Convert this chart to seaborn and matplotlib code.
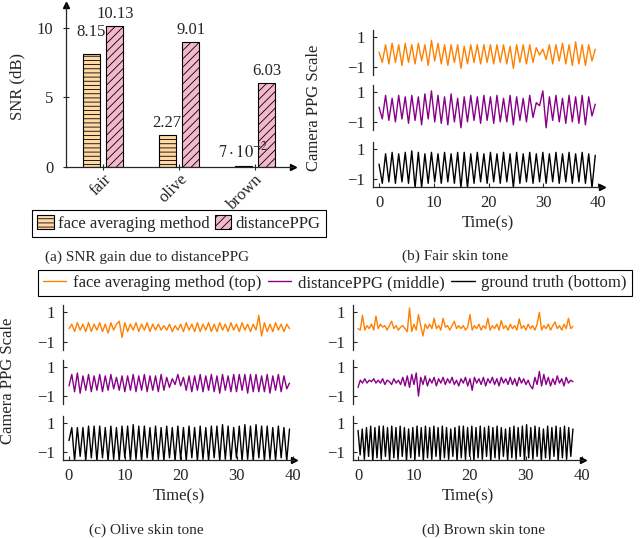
import numpy as np
import pandas as pd
import matplotlib
matplotlib.use('Agg')
import matplotlib.pyplot as plt
import matplotlib.patches as mpatches
from matplotlib.lines import Line2D
import seaborn as sns

# --- (a) SNR bars ---
categories = ['fair', 'olive', 'brown']
method_names = ['face averaging method', 'distancePPG']
face_avg_snr = [8.15, 2.27, 0.07]
distance_ppg_snr = [10.13, 9.01, 6.03]
face_avg_text = ['8.15', '2.27', r'$7\cdot10^{-2}$']
distance_ppg_text = ['10.13', '9.01', '6.03']

# --- camera PPG traces (evenly spaced in time) ---
trace_names = ['face averaging method (top)', 'distancePPG (middle)', 'ground truth (bottom)']

fair_end = 39.5
fair_face = [0.0, -0.7, 0.5, -0.8, 0.6, -0.7, 0.5, -0.9, 0.6, -0.7,
             0.5, -0.8, 0.6, -0.6, 0.5, -0.9, 0.8, -0.6, 0.6, -0.8,
             0.5, -0.9, 0.5, -0.7, 0.5, -1.1, 0.4, -0.8, 0.5, -0.7,
             0.5, -0.8, 0.5, -0.7, 0.5, -0.8, 0.5, -0.7, 0.5, -0.8,
             0.4, -1.1, 0.5, -0.7, 0.5, -0.8, 0.5, -0.7, 0.3, -0.2,
             0.2, -0.5, 0.5, -0.8, 0.5, -0.6, 0.6, -0.8, 0.5, -0.9,
             0.7, -0.8, 0.5, -0.9, 0.5, -0.6, 0.2]
fair_dppg = [0.0, -0.8, 0.8, -0.9, 0.6, -1.0, 0.8, -0.8, 0.7, -1.1,
             0.8, -0.9, 0.7, -1.2, 0.9, -0.8, 1.1, -1.0, 0.8, -1.1,
             0.7, -1.2, 0.9, -1.0, 0.6, -1.4, 0.7, -1.0, 0.8, -0.9,
             0.7, -1.1, 0.8, -0.9, 0.7, -1.1, 0.8, -1.0, 0.6, -1.0,
             0.8, -1.2, 0.7, -0.9, 0.6, -1.0, 0.8, -0.7, 0.3, 0.1,
             1.1, -1.4, 0.7, -0.9, 0.8, -1.0, 0.6, -1.1, 0.8, -1.0,
             0.7, -1.1, 0.8, -1.2, 0.7, -0.6, 0.2]
fair_truth = [0.0, -1.3, 0.7, -1.2, 0.8, -1.3, 0.7, -1.2, 0.8, -1.3,
              0.9, -1.6, 0.8, -1.6, 0.7, -1.3, 0.8, -1.2, 0.7, -1.3,
              0.8, -1.2, 0.7, -1.3, 0.8, -1.6, 0.8, -1.6, 0.7, -1.3,
              0.8, -1.2, 0.7, -1.3, 0.8, -1.2, 0.7, -1.3, 0.8, -1.2,
              0.7, -1.6, 0.8, -1.3, 0.7, -1.2, 0.8, -1.3, 0.7, -1.2,
              0.8, -1.3, 0.7, -1.2, 0.8, -1.3, 0.7, -1.2, 0.8, -1.3,
              0.7, -1.2, 0.8, -1.3, 0.7, -1.6, 0.6]

olive_end = 39.4
olive_face = [-0.1, 0.2, -0.3, 0.3, -0.2, 0.2, -0.3, 0.3, -0.3, 0.2,
              -0.2, 0.3, -0.3, 0.2, -0.4, 0.3, -0.2, 0.2, 0.4, -0.7,
              0.3, -0.3, 0.2, -0.2, 0.3, -0.3, 0.2, -0.2, 0.3, -0.3,
              0.2, -0.2, 0.2, -0.2, 0.1, -0.2, 0.2, -0.3, 0.1, -0.2,
              0.2, -0.3, 0.3, -0.2, 0.2, -0.3, 0.3, -0.3, 0.2, -0.2,
              0.3, -0.3, 0.2, -0.3, 0.3, -0.2, 0.2, -0.3, 0.3, -0.2,
              0.2, -0.3, 0.3, -0.2, 0.2, -0.3, 0.2, -0.2, 0.8, -0.6,
              0.3, -0.3, 0.2, -0.3, 0.3, -0.2, 0.2, -0.3, 0.2, -0.1]
olive_dppg = [-0.3, 0.5, -0.7, 0.6, -0.8, 0.4, -0.6, 0.5, -0.7, 0.4,
              -0.6, 0.5, -0.7, 0.4, -0.6, 0.5, -0.5, 0.3, -0.6, 0.4,
              -0.7, 0.4, -0.6, 0.5, -0.7, 0.4, -0.6, 0.5, -0.7, 0.4,
              -0.6, 0.4, -0.7, 0.5, -0.6, 0.3, -0.4, 0.2, -0.2, 0.5,
              -0.3, 0.3, -0.6, 0.4, -0.7, 0.4, -0.6, 0.5, -0.7, 0.4,
              -0.6, 0.5, -0.7, 0.4, -0.8, 0.5, -0.6, 0.4, -0.7, 0.5,
              -0.7, 0.5, -0.6, 0.5, -0.8, 0.5, -0.7, 0.5, -0.7, 0.4,
              -0.7, 0.5, -0.8, 0.4, -0.6, 0.5, -0.7, 0.4, -0.5, -0.1]
olive_truth = [-0.2, 0.7, -1.6, 0.7, -1.3, 0.7, -1.6, 0.8, -1.4, 0.8,
               -1.6, 0.8, -1.4, 0.7, -1.6, 0.8, -1.5, 0.7, -1.6, 0.8,
               -1.4, 0.8, -1.6, 0.9, -1.5, 0.8, -1.6, 0.8, -1.4, 0.7,
               -1.6, 0.8, -1.5, 0.7, -1.6, 0.8, -1.4, 0.7, -1.6, 0.8,
               -1.5, 0.7, -1.6, 0.8, -1.4, 0.7, -1.6, 0.8, -1.5, 0.7,
               -1.6, 0.8, -1.4, 0.8, -1.6, 0.9, -1.5, 0.8, -1.6, 0.7,
               -1.4, 0.8, -1.6, 0.9, -1.5, 0.8, -1.6, 0.9, -1.4, 0.8,
               -1.6, 0.8, -1.5, 0.7, -1.6, 0.8, -1.4, 0.7, -1.6, 0.6]

brown_end = 38.4
brown_face = [-0.1, -0.2, 0.8, -0.2, 0.1, -0.1, 0.2, -0.2, 0.75, -0.1,
              0.2, 0.0, 0.1, -0.2, 0.1, 0.4, -0.1, 0.1, -0.2, 0.0,
              0.1, -0.1, -0.3, 1.3, -0.3, 0.2, -0.2, 0.85, 0.1, -0.6,
              0.2, -0.1, 0.2, -0.1, 0.6, -0.1, 0.1, -0.2, 0.6, 0.0,
              0.1, -0.2, 0.1, 0.4, -0.1, 0.1, -0.1, 0.1, -0.2, 0.0,
              0.85, -0.2, 0.1, -0.1, 0.2, -0.2, 0.1, -0.1, 0.6, -0.2,
              0.1, -0.1, 0.2, -0.2, 0.45, -0.1, 0.1, -0.2, 0.2, -0.1,
              0.1, -0.2, 0.55, -0.1, 0.1, -0.2, 0.2, -0.1, 0.1, -0.2,
              0.2, 1.0, -0.2, 0.1, -0.1, 0.2, -0.2, 0.1, 0.35, -0.1,
              0.1, -0.2, 0.2, -0.1, 0.6, -0.1, 0.05]
brown_dppg = [-0.4, 0.1, -0.1, 0.2, -0.1, 0.1, 0.0, 0.2, -0.1, 0.1,
              -0.1, 0.2, -0.2, 0.1, 0.0, -0.2, 0.2, -0.1, 0.1, -0.2,
              0.3, -0.3, 0.4, -0.4, 0.5, -0.2, 0.6, -1.0, 0.3, -0.2,
              0.4, -0.3, 0.2, -0.1, 0.3, -0.3, 0.2, -0.1, 0.3, -0.2,
              0.2, -0.1, 0.3, -0.2, 0.1, -0.3, 0.2, -0.1, 0.3, -0.3,
              0.2, -0.6, 0.3, -0.1, 0.2, -0.2, 0.3, -0.3, 0.2, -0.1,
              0.3, -0.2, 0.2, -0.3, 0.3, -0.1, 0.2, -0.2, 0.3, -0.2,
              0.2, -0.3, 0.3, -0.1, 0.2, -0.2, 0.1, -0.3, -0.5, 0.3,
              -0.2, 0.7, -0.3, 0.5, -0.2, 0.3, -0.3, 0.2, -0.2, 0.4,
              -0.1, 0.2, -0.3, 0.3, -0.1, 0.1, 0.0]
brown_truth = [0.5, -1.2, 0.6, -1.5, 0.7, -1.3, 0.8, -1.6, 0.7, -1.4,
               0.8, -1.5, 0.8, -1.3, 0.7, -1.6, 0.8, -1.4, 0.7, -1.5,
               0.8, -1.3, 0.7, -1.6, 0.6, -1.4, 0.7, -1.5, 0.8, -1.3,
               0.7, -1.6, 0.8, -1.4, 0.7, -1.5, 0.8, -1.3, 0.7, -1.6,
               0.8, -1.4, 0.7, -1.5, 0.6, -1.3, 0.7, -1.6, 0.8, -1.4,
               0.8, -1.5, 0.7, -1.3, 0.8, -1.6, 0.7, -1.4, 0.8, -1.5,
               0.7, -1.3, 0.8, -1.6, 0.7, -1.4, 0.8, -1.5, 0.7, -1.3,
               0.6, -1.6, 0.7, -1.4, 0.8, -1.5, 0.7, -1.3, 0.8, -1.6,
               0.9, -1.4, 0.7, -1.5, 0.8, -1.3, 0.7, -1.6, 0.6, -1.4,
               0.8, -1.5, 0.7, -1.3, 0.8, -1.6, 0.7, -1.4, 0.8, -1.5,
               0.7, -1.3, 0.6]

bar_colors = ['#FFD9A6', '#F4B8CB']
bar_hatches = ['----', '////']
trace_colors = ['#FF8000', '#880088', 'black']

sns.set_style('ticks')
plt.rcParams['font.family'] = ['Liberation Serif', 'DejaVu Serif']
plt.rcParams['mathtext.fontset'] = 'stix'
plt.rcParams['font.size'] = 12
plt.rcParams['hatch.linewidth'] = 0.6
plt.rcParams['axes.linewidth'] = 0.9

W, H = 640, 538
fig = plt.figure(figsize=(W / 100, H / 100), dpi=100)


def px_axes(left, top, right, bottom):
    return fig.add_axes([left / W, 1 - bottom / H, (right - left) / W, (bottom - top) / H])


# ---------- (a) ----------
ax = px_axes(66, 5, 293, 167)
df = pd.DataFrame({
    'skin': categories * 2,
    'snr': face_avg_snr + distance_ppg_snr,
    'method': [method_names[0]] * 3 + [method_names[1]] * 3,
})
sns.barplot(data=df, x='skin', y='snr', hue='method', hue_order=method_names,
            palette=bar_colors, saturation=1, width=0.63, gap=0.29,
            edgecolor='black', linewidth=0.8, legend=False, ax=ax)
for cont, hatch, txt in zip(ax.containers, bar_hatches, [face_avg_text, distance_ppg_text]):
    for bar in cont:
        bar.set_hatch(hatch)
    labels = ax.bar_label(cont, labels=txt, padding=3, fontsize=12)
    if hatch == bar_hatches[0]:
        labels[0].xyann = (0, 10)  # 8.15 sits higher in the original

ax.set_xlim(-0.487, 2.5)
ax.set_ylim(0, 11.65)
ax.set_yticks([0, 5, 10])
ax.set_xlabel('')
ax.set_ylabel('SNR (dB)', fontsize=12, labelpad=8)
sns.despine(ax=ax)
ax.tick_params(axis='y', direction='inout', length=4, pad=7, labelsize=12)
ax.tick_params(axis='x', direction='inout', length=4, pad=1, labelsize=12, labelrotation=45)
for lab in ax.get_xticklabels():
    lab.set_ha('right')
    lab.set_rotation_mode('anchor')
ax.plot(1, 0, '>k', ms=4, transform=ax.transAxes, clip_on=False)
ax.plot(0, 1, '^k', ms=4, transform=ax.transAxes, clip_on=False)

bar_handles = [mpatches.Patch(facecolor=c, edgecolor='black', hatch=h, linewidth=0.8)
               for c, h in zip(bar_colors, bar_hatches)]
leg_a = fig.legend(bar_handles, method_names, loc='center', bbox_to_anchor=(179 / W, 1 - 223.5 / H),
                   ncol=2, fancybox=False, edgecolor='black', framealpha=1, fontsize=12,
                   handlelength=1.0, handleheight=0.9, handletextpad=0.25, columnspacing=0.3,
                   borderpad=0.3, borderaxespad=0)
leg_a.get_frame().set_linewidth(0.8)


# ---------- traces ----------
def trace_panel(left, right, rows, xlim, t_end, series):
    for k, (top, bottom) in enumerate(rows):
        a = px_axes(left, top, right, bottom)
        vals = series[k]
        t = np.linspace(0, t_end, len(vals))
        sns.lineplot(x=t, y=vals, color=trace_colors[k], lw=1.0, estimator=None,
                     sort=False, ax=a)
        a.set_xlim(*xlim)
        a.set_ylim(-1.55, 1.5)
        a.set_yticks([-1, 1])
        a.set_ylabel('')
        a.tick_params(axis='y', direction='in', length=3, pad=6, labelsize=12)
        a.spines[['top', 'right']].set_visible(False)
        if k < 2:
            a.spines['bottom'].set_visible(False)
            a.tick_params(axis='x', bottom=False, labelbottom=False)
        else:
            a.set_xticks([0, 10, 20, 30, 40])
            a.tick_params(axis='x', direction='in', length=3, pad=6, labelsize=12)
            a.set_xlabel('Time(s)', fontsize=12, labelpad=3)
            a.plot(1, 0, '>k', ms=4, transform=a.transAxes, clip_on=False)


trace_panel(373, 602, [(30, 75), (85, 130), (142, 187)], (-1.1, 40.73), fair_end,
            [fair_face, fair_dppg, fair_truth])
trace_panel(63, 294, [(305, 350), (360, 404), (416, 460)], (-1.07, 40.2), olive_end,
            [olive_face, olive_dppg, olive_truth])
trace_panel(353, 583, [(305, 350), (360, 404), (416, 460)], (-0.9, 40.2), brown_end,
            [brown_face, brown_dppg, brown_truth])

fig.text(314 / W, 1 - 108 / H, 'Camera PPG Scale', rotation=90, ha='center', va='center', fontsize=12)
fig.text(8 / W, 1 - 381 / H, 'Camera PPG Scale', rotation=90, ha='center', va='center', fontsize=12)

line_handles = [Line2D([], [], color=c, lw=1.0) for c in trace_colors]
leg_b = fig.legend(line_handles, trace_names, loc='center', bbox_to_anchor=(335 / W, 1 - 283 / H),
                   ncol=3, fancybox=False, edgecolor='black', framealpha=1, fontsize=12,
                   handlelength=1.4, handletextpad=0.4, columnspacing=0.4,
                   borderpad=0.3, borderaxespad=0)
leg_b.get_frame().set_linewidth(0.8)

fig.text(147 / W, 1 - 257 / H, '(a) SNR gain due to distancePPG', ha='center', va='center', fontsize=11)
fig.text(455 / W, 1 - 256 / H, '(b) Fair skin tone', ha='center', va='center', fontsize=11)
fig.text(146 / W, 1 - 530 / H, '(c) Olive skin tone', ha='center', va='center', fontsize=11)
fig.text(484 / W, 1 - 530 / H, '(d) Brown skin tone', ha='center', va='center', fontsize=11)

fig.savefig('out.png', dpi=100)
plt.close(fig)
